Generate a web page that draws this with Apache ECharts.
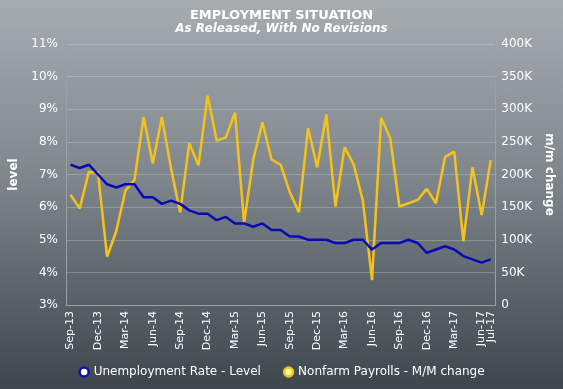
<!DOCTYPE html>
<html>
<head>
<meta charset="utf-8">
<script src="https://cdn.jsdelivr.net/npm/echarts@6/dist/echarts.min.js"></script>
<style>
html,body{margin:0;padding:0;}
#c{width:563px;height:389px;background:linear-gradient(to bottom,#a7acb1 0%,#7f878d 45%,#3d464d 100%);}
</style>
</head>
<body>
<div id="c"></div>
<script>
const categories = ["Sep-13","Oct-13","Nov-13","Dec-13","Jan-14","Feb-14","Mar-14","Apr-14","May-14","Jun-14","Jul-14","Aug-14","Sep-14","Oct-14","Nov-14","Dec-14","Jan-15","Feb-15","Mar-15","Apr-15","May-15","Jun-15","Jul-15","Aug-15","Sep-15","Oct-15","Nov-15","Dec-15","Jan-16","Feb-16","Mar-16","Apr-16","May-16","Jun-16","Jul-16","Aug-16","Sep-16","Oct-16","Nov-16","Dec-16","Jan-17","Feb-17","Mar-17","Apr-17","May-17","Jun-17","Jul-17"];
const unemploymentRate = [7.3,7.2,7.3,7.0,6.7,6.6,6.7,6.7,6.3,6.3,6.1,6.2,6.1,5.9,5.8,5.8,5.6,5.7,5.5,5.5,5.4,5.5,5.3,5.3,5.1,5.1,5.0,5.0,5.0,4.9,4.9,5.0,5.0,4.7,4.9,4.9,4.9,5.0,4.9,4.6,4.7,4.8,4.7,4.5,4.4,4.3,4.4];
const nonfarmPayrolls = [169,148,204,203,74,113,175,192,288,217,288,209,142,248,214,321,252,257,295,126,223,280,223,215,173,142,271,211,292,151,242,215,160,38,287,255,151,156,161,178,156,227,235,98,211,138,222];
const seriesNames = ["Unemployment Rate - Level","Nonfarm Payrolls - M/M change"];
const titleText = "EMPLOYMENT SITUATION";
const subtitleText = "As Released, With No Revisions";

const FONT = "DejaVu Sans";
const chart = echarts.init(document.getElementById('c'), null, {renderer:'canvas'});
const lastIdx = categories.length - 1;
const xLabelStyle = {rotate:90, color:'#ffffff', fontSize:11, fontFamily:FONT, margin:6, hideOverlap:false};
chart.setOption({
  backgroundColor: 'transparent',
  textStyle: {fontFamily: FONT},
  title: {
    text: titleText,
    subtext: subtitleText,
    left: 'center',
    top: 4,
    itemGap: 1,
    textStyle: {color:'#ffffff', fontSize:13, fontWeight:'bold', fontFamily:FONT},
    subtextStyle: {color:'#ffffff', fontSize:12, fontWeight:'bold', fontStyle:'italic', fontFamily:FONT}
  },
  legend: {
    bottom: 6,
    left: 'center',
    itemGap: 22,
    itemWidth: 9,
    itemHeight: 9,
    textStyle: {color:'#ffffff', fontSize:12, fontFamily:FONT},
    data: [
      {name: seriesNames[0], icon:'circle', itemStyle:{color:'#ffffff', borderColor:'#1010b0', borderWidth:2.5}},
      {name: seriesNames[1], icon:'circle', itemStyle:{color:'#ffff90', borderColor:'#f2c21a', borderWidth:2.5}}
    ]
  },
  grid: {left:57, right:63, top:44, bottom:84, containLabel:false},
  xAxis: [
    {
      type:'category',
      data: categories,
      boundaryGap: true,
      position:'bottom',
      axisLine: {show:true, lineStyle:{color:'#9aa0a6', width:1}},
      axisTick: {show:false},
      axisLabel: Object.assign({}, xLabelStyle, {
        showMaxLabel:true, showMinLabel:true,
        interval: function(i){ return i % 3 === 0; }
      }),
      splitLine: {show:false}
    },
    {
      type:'category',
      data: categories,
      boundaryGap: true,
      position:'bottom',
      offset: 0,
      axisLine: {show:false},
      axisTick: {show:false},
      axisLabel: Object.assign({}, xLabelStyle, {
        showMaxLabel:true, showMinLabel:true,
        interval: function(i){ return i === lastIdx; }
      }),
      splitLine: {show:false}
    }
  ],
  yAxis: [
    {
      type:'value', min:3, max:11, interval:1,
      position:'left',
      name:'level', nameLocation:'middle', nameGap:46, nameRotate:90,
      nameTextStyle:{color:'#ffffff', fontSize:12, fontWeight:'bold', fontFamily:FONT},
      axisLine:{show:true, lineStyle:{color:'#9aa0a6'}},
      axisTick:{show:false},
      axisLabel:{color:'#ffffff', fontSize:12, fontFamily:FONT, margin:8, formatter:'{value}%'},
      splitLine:{show:true, lineStyle:{color:'rgba(220,225,230,0.28)', width:1}}
    },
    {
      type:'value', min:0, max:400, interval:50,
      position:'right',
      name:'m/m change', nameLocation:'middle', nameGap:44, nameRotate:-90,
      nameTextStyle:{color:'#ffffff', fontSize:12, fontWeight:'bold', fontFamily:FONT},
      axisLine:{show:true, lineStyle:{color:'#9aa0a6'}},
      axisTick:{show:false},
      axisLabel:{color:'#ffffff', fontSize:12, fontFamily:FONT, margin:6, formatter:function(v){return v===0?'0':v+'K';}},
      splitLine:{show:false}
    }
  ],
  series: [
    {
      name: seriesNames[0], type:'line', xAxisIndex:0, yAxisIndex:0,
      data: unemploymentRate, showSymbol:false, symbol:'none',
      lineStyle:{color:'#0a0ab4', width:2.5}, itemStyle:{color:'#0a0ab4'}, z:3
    },
    {
      name: seriesNames[1], type:'line', xAxisIndex:0, yAxisIndex:1,
      data: nonfarmPayrolls, showSymbol:false, symbol:'none',
      lineStyle:{color:'#f5c21b', width:2.5}, itemStyle:{color:'#f5c21b'}, z:2
    }
  ]
});
</script>
</body>
</html>
